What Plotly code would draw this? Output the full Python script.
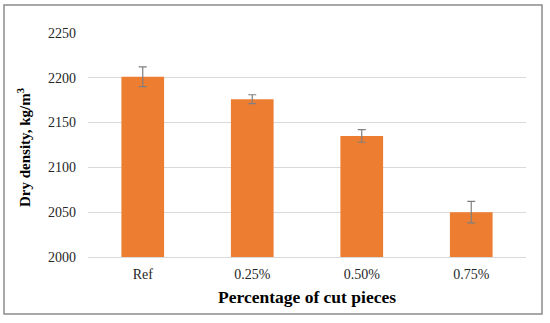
import plotly.graph_objects as go

categories = ["Ref", "0.25%", "0.50%", "0.75%"]
density = [2201, 2176, 2135, 2050]
error = [11, 5, 7, 12]

W, H = 550, 323
L, R, T, B = 88, 24, 32, 66
pw, ph = W - L - R, H - T - B

fig = go.Figure(go.Bar(
    x=categories, y=density,
    marker=dict(color="#ED7D31", line=dict(width=0)),
    width=0.39,
    error_y=dict(type="data", array=error, color="#7f7f7f", thickness=1.2, width=4),
))

def px2x(p):
    return (p - L) / pw

def px2y(p):
    return (H - B - p) / ph

fig.add_shape(type="rect", xref="paper", yref="paper",
              x0=px2x(4), x1=px2x(542), y0=px2y(314), y1=px2y(5),
              line=dict(color="#8c8c8c", width=1.5), fillcolor="rgba(0,0,0,0)", layer="below")

fig.add_annotation(text="<b>Percentage of cut pieces</b>", xref="paper", yref="paper",
                   x=0.5, y=px2y(297), xanchor="center", yanchor="middle", showarrow=False,
                   font=dict(size=17.5, color="#000"))
fig.add_annotation(text="<b>Dry density, kg/m<sup>3</sup></b>", xref="paper", yref="paper",
                   x=px2x(24), y=px2y(148), xanchor="center", yanchor="middle", showarrow=False,
                   textangle=-90, font=dict(size=15, color="#000"))

fig.update_layout(
    width=W, height=H,
    margin=dict(l=L, r=R, t=T, b=B, autoexpand=False),
    paper_bgcolor="white", plot_bgcolor="white",
    font=dict(family="Liberation Serif", size=14, color="#262626"),
    showlegend=False,
    xaxis=dict(
        automargin=False,
        showline=True, linecolor="#d9d9d9", linewidth=1,
        tickfont=dict(size=14, color="#262626"), ticks="", ticklabelstandoff=4,
    ),
    yaxis=dict(
        automargin=False,
        range=[2000, 2251], tickvals=[2000, 2050, 2100, 2150, 2200, 2250],
        showgrid=True, gridcolor="#d9d9d9", gridwidth=1, zeroline=False,
        tickfont=dict(size=14, color="#262626"), ticks="", ticklabelstandoff=11,
    ),
)

fig.write_html("out.html", config={"displayModeBar": False},
               post_script="document.body.style.margin='0';document.body.style.overflow='hidden';")
